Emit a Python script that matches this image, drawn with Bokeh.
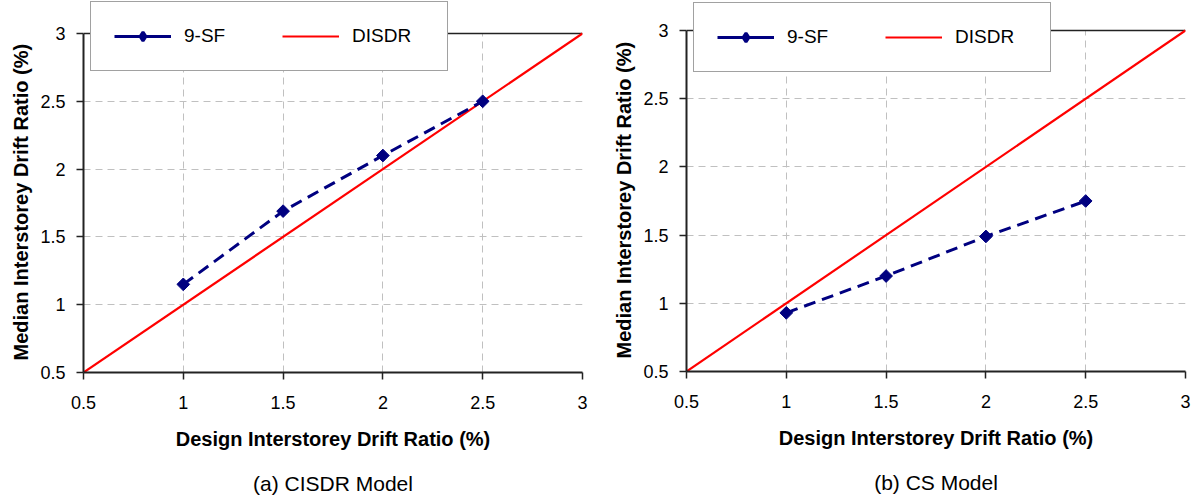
import math
from bokeh.plotting import figure
from bokeh.layouts import row
from bokeh.models import (Legend, LegendItem, FixedTicker, NumeralTickFormatter, Grid, Title)
from bokeh.embed import file_html
from bokeh.resources import INLINE

# ---- data ----
design_drift = [1.0, 1.5, 2.0, 2.5]
cisdr_9sf = [1.15, 1.69, 2.10, 2.50]
cs_9sf = [0.93, 1.20, 1.49, 1.75]
disdr_x = [0.5, 3.0]
disdr_y = [0.5, 3.0]
ticks = [0.5, 1.0, 1.5, 2.0, 2.5, 3.0]
series_names = ["9-SF", "DISDR"]
captions = ["(a) CISDR Model", "(b) CS Model"]
x_title = "Design Interstorey Drift Ratio (%)"
y_title = "Median Interstorey Drift Ratio (%)"

FONT = "Liberation Sans"
NAVY = "#000080"
LO, HI = 0.5, 3.0


def make_panel(yvals, caption, b_left, b_right, top_px, fh, b_bottom, leg_xy,
               cap_standoff, ytitle_offset):
    # frame reaches the top of the canvas so the legend box is not clipped;
    # the data area [0.5, 3] sits top_px below the frame top
    y_end = HI + top_px * (HI - LO) / (fh - top_px)
    p = figure(frame_width=499, frame_height=fh,
               min_border_left=b_left, min_border_right=b_right,
               min_border_top=0, min_border_bottom=b_bottom,
               x_range=(LO, HI), y_range=(LO, y_end),
               output_backend="svg", toolbar_location=None,
               background_fill_color="white", border_fill_color="white")
    p.outline_line_color = None

    for ax in (p.xaxis[0], p.yaxis[0]):
        ax.ticker = FixedTicker(ticks=ticks)
        ax.formatter = NumeralTickFormatter(format="0.[0]")
        ax.bounds = (LO, HI)
        ax.major_tick_out = 7
        ax.major_tick_in = 0
        ax.minor_tick_line_color = None
        ax.axis_line_width = 2
        ax.axis_line_color = "#222222"
        ax.major_tick_line_color = "#222222"
        ax.major_tick_line_width = 1.5
        ax.major_label_text_font = FONT
        ax.major_label_text_font_size = "18px"
        ax.major_label_text_color = "black"
        ax.axis_label_text_font = FONT
        ax.axis_label_text_font_size = "20px"
        ax.axis_label_text_font_style = "bold"
        ax.axis_label_text_color = "black"
    p.xaxis.axis_label = x_title
    p.xaxis.major_label_standoff = 16
    p.xaxis.axis_label_standoff = 16
    p.yaxis.major_label_standoff = 11

    # y title as a side title so it can be placed along the [0.5, 3] span
    p.add_layout(Title(text=y_title, align="left", offset=ytitle_offset, standoff=8,
                       vertical_align="top",
                       text_font=FONT, text_font_size="20px", text_font_style="bold",
                       text_color="black"), "left")

    for g in (p.xgrid[0], p.ygrid[0]):
        g.ticker = FixedTicker(ticks=ticks)
        g.bounds = (LO, HI)
        g.cross_bounds = (LO, HI)
        g.grid_line_color = "#c0c0c0"
        g.grid_line_dash = "7 5"
        g.grid_line_width = 1

    # plot-area border on top and right (at the range limit)
    p.add_layout(Grid(dimension=1, ticker=FixedTicker(ticks=[HI]), bounds=(LO, HI),
                      cross_bounds=(LO, HI),
                      grid_line_color="#222222", grid_line_width=1.5))
    p.add_layout(Grid(dimension=0, ticker=FixedTicker(ticks=[HI]), bounds=(LO, HI),
                      cross_bounds=(LO, HI),
                      grid_line_color="#222222", grid_line_width=1.5))

    red = p.line(disdr_x, disdr_y, line_color="red", line_width=2.2)
    p.line(design_drift, yvals, line_color=NAVY, line_width=3, line_dash="12 7")
    p.scatter(design_drift, yvals, marker="square", size=9, angle=math.pi / 4,
              fill_color=NAVY, line_color=NAVY)
    # solid line and diamond used only for the legend sample
    leg_line = p.line(design_drift, yvals, line_color=NAVY, line_width=3, visible=False)
    leg_pts = p.scatter(design_drift, yvals, marker="diamond", size=11, line_width=3,
                        fill_color=NAVY, line_color=NAVY, visible=False)

    legend = Legend(items=[LegendItem(label=series_names[0], renderers=[leg_line, leg_pts]),
                           LegendItem(label=series_names[1], renderers=[red])],
                    orientation="horizontal", location=leg_xy,
                    padding=23, margin=0, spacing=26,
                    glyph_width=57, glyph_height=22, label_width=72, label_standoff=13,
                    label_text_font=FONT, label_text_font_size="19px",
                    label_text_color="black",
                    inactive_fill_alpha=0.0,
                    border_line_color="#444444", border_line_width=1.5,
                    background_fill_color="white", background_fill_alpha=1.0)
    p.add_layout(legend, "center")

    p.add_layout(Title(text=caption, align="center", standoff=cap_standoff,
                       text_font=FONT, text_font_size="21px", text_font_style="normal",
                       text_color="black"), "below")
    return p


p1 = make_panel(cisdr_9sf, captions[0], 83, 22, 33, 372, 126, (7, 301), 34, 12)
p2 = make_panel(cs_9sf, captions[1], 82, 9, 30, 371, 127, (7, 299), 34, 13)

layout = row(p1, p2, spacing=0)
open("out.html", "w").write(file_html(layout, INLINE))
